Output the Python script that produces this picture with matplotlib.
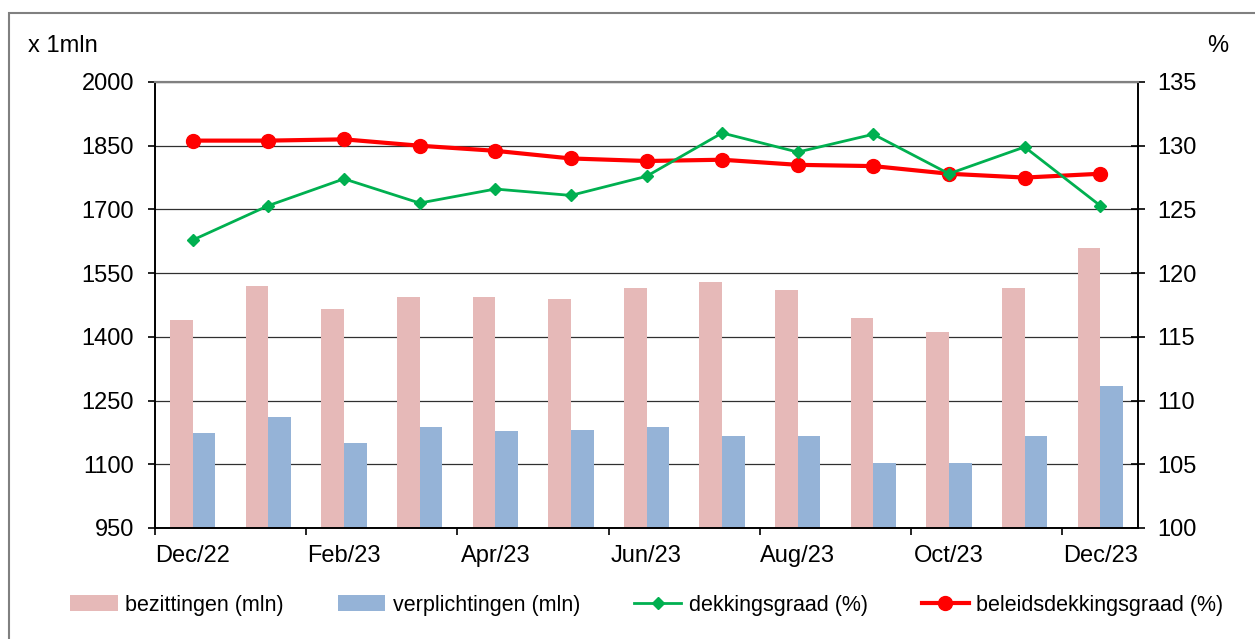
import numpy as np
import matplotlib
matplotlib.use("Agg")
import matplotlib.pyplot as plt
from matplotlib.patches import Rectangle

plt.rcParams["font.family"] = ["Liberation Sans", "DejaVu Sans"]

months = ["Dec/22", "Jan/23", "Feb/23", "Mar/23", "Apr/23", "May/23", "Jun/23",
          "Jul/23", "Aug/23", "Sep/23", "Oct/23", "Nov/23", "Dec/23"]
bezittingen = [1440, 1520, 1466, 1494, 1494, 1489, 1515, 1529, 1510, 1444, 1411, 1515, 1609]
verplichtingen = [1174, 1211, 1150, 1188, 1178, 1181, 1188, 1167, 1167, 1103, 1103, 1167, 1284]
dekkingsgraad = [122.6, 125.3, 127.4, 125.5, 126.6, 126.1, 127.6, 131.0, 129.5, 130.9, 127.8, 129.9, 125.3]
beleidsdekkingsgraad = [130.4, 130.4, 130.5, 130.0, 129.6, 129.0, 128.8, 128.9, 128.5, 128.4, 127.8, 127.5, 127.8]

left_ticks = [950, 1100, 1250, 1400, 1550, 1700, 1850, 2000]
right_ticks = [100, 105, 110, 115, 120, 125, 130, 135]

PINK = "#E6B9B8"
BLUE = "#95B3D7"
GREEN = "#00B050"
RED = "#FF0000"

W, H = 1255, 639
fig = plt.figure(figsize=(W / 100, H / 100), dpi=100)
ax = fig.add_axes([155 / W, 1 - 528 / H, (1138 - 155) / W, (528 - 82) / H])
ax2 = ax.twinx()

x = np.arange(len(months))
b1 = ax.bar(x - 0.15, bezittingen, width=0.3, color=PINK, label="bezittingen (mln)", zorder=2)
b2 = ax.bar(x + 0.15, verplichtingen, width=0.3, color=BLUE, label="verplichtingen (mln)", zorder=2)

l2, = ax2.plot(x, beleidsdekkingsgraad, color=RED, lw=3, marker="o", ms=10,
               label="beleidsdekkingsgraad (%)", zorder=3)
l1, = ax2.plot(x, dekkingsgraad, color=GREEN, lw=2, marker="D", ms=6,
               label="dekkingsgraad (%)", zorder=4)

ax.set_xlim(-0.5, len(months) - 0.5)
ax.set_ylim(950, 2000)
ax2.set_ylim(100, 135)
ax.set_yticks(left_ticks)
ax2.set_yticks(right_ticks)

# ticks at category boundaries, labels on every other month
ax.set_xticks(np.arange(-0.5, len(months) - 1, 2))
ax.set_xticklabels([])
ax.set_xticks(x[::2], minor=True)
ax.set_xticklabels(months[::2], minor=True)
ax.tick_params(axis="x", which="major", direction="out", length=5, width=1.2, color="black")
ax.tick_params(axis="x", which="minor", length=0, pad=12, labelsize=17)
ax.tick_params(axis="y", direction="out", length=5, width=1.2, pad=10, labelsize=17)
ax2.tick_params(axis="y", direction="inout", length=10, width=1.2, pad=9, labelsize=17)

ax.set_axisbelow(True)
ax.yaxis.grid(True, color="#303030", lw=0.9)

for a in (ax, ax2):
    for side in ("left", "right", "bottom"):
        a.spines[side].set_color("black")
        a.spines[side].set_linewidth(1.2)
    a.spines["top"].set_color("#808080")
    a.spines["top"].set_linewidth(1.5)

fig.text(28 / W, 1 - 46 / H, "x 1mln", fontsize=17, ha="left", va="center")
fig.text(1228 / W, 1 - 46 / H, "%", fontsize=17, ha="right", va="center")

fig.legend([b1, b2, l1, l2],
           ["bezittingen (mln)", "verplichtingen (mln)", "dekkingsgraad (%)", "beleidsdekkingsgraad (%)"],
           loc="center", bbox_to_anchor=(647 / W, 1 - 605 / H), ncol=4, frameon=False,
           fontsize=15.5, handlelength=2.2, handleheight=0.8, handletextpad=0.35,
           columnspacing=2.5)

# outer chart border (only left and top edges fall inside the image)
fig.patches.append(Rectangle((9 / W, -0.1), 2, 1.1 - 13 / H, transform=fig.transFigure,
                             fill=False, edgecolor="#808080", lw=1.5))

fig.savefig("out.png", dpi=100)
